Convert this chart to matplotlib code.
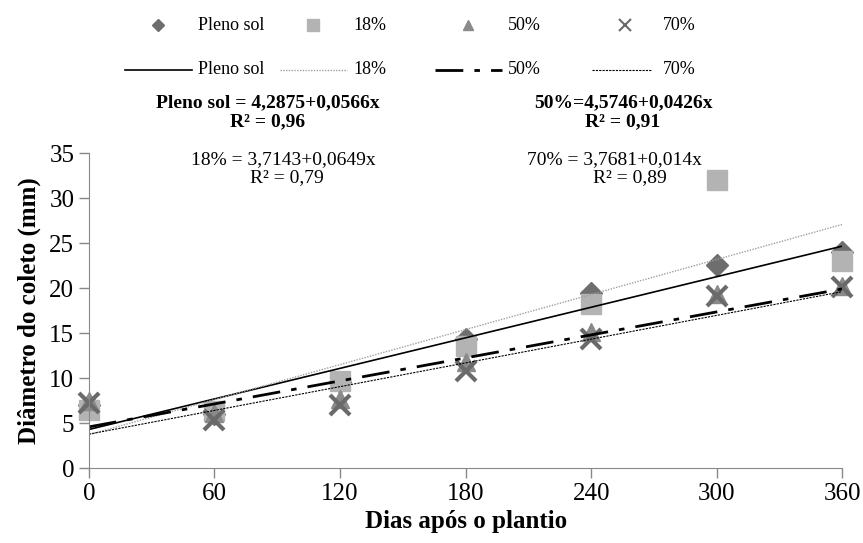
import matplotlib.pyplot as plt
from matplotlib.lines import Line2D
import numpy as np

# dados
dias = [0, 60, 120, 180, 240, 300, 360]
pleno_sol = [7.0, 6.0, 9.6, 14.3, 19.5, 22.6, 24.0]
s18 = [6.4, 6.3, 9.7, 13.6, 18.2, 32.0, 23.0]
s50 = [7.5, 6.1, 7.7, 11.8, 15.1, 19.3, 20.2]
s70 = [7.2, 5.3, 7.0, 10.8, 14.3, 19.1, 20.1]

nomes = ['Pleno sol', '18%', '50%', '70%']
interceptos = [4.2875, 3.7143, 4.5746, 3.7681]
inclinacoes = [0.0566, 0.0649, 0.0426, 0.044]
eqs = ['Pleno sol = 4,2875+0,0566x', '18% = 3,7143+0,0649x',
       '50%=4,5746+0,0426x', '70% = 3,7681+0,014x']
r2 = ['R² = 0,96', 'R² = 0,79', 'R² = 0,91', 'R² = 0,89']

plt.rcParams['font.family'] = ['Liberation Serif', 'DejaVu Serif']

mk = [dict(marker='D', color='#6e6e6e', ms=11),
      dict(marker='s', color='#b3b3b3', ms=14),
      dict(marker='^', color='#8a8a8a', ms=13),
      dict(marker='x', color='#6a6a6a', ms=14, mew=3)]
ls = [dict(color='black', lw=1.2, ls='-'),
      dict(color='#a0a0a0', lw=1.0, ls=(0, (1, 1))),
      dict(color='black', lw=2.0, ls=(0, (10, 4, 2, 4))),
      dict(color='black', lw=0.8, ls=(0, (2, 1)))]

fig = plt.figure(figsize=(8.63, 5.43), dpi=100)
ax = fig.add_axes([0.103, 0.138, 0.873, 0.580])

series = [pleno_sol, s18, s50, s70]
for y, m in zip(series, mk):
    ax.plot(dias, y, ls='none', clip_on=False, **m)

xx = np.array([0, 360])
for a, b, l in zip(interceptos, inclinacoes, ls):
    ax.plot(xx, a + b * xx, **l)

ax.set_xlim(0, 360)
ax.set_ylim(0, 35)
ax.set_xticks(dias)
ax.set_yticks(range(0, 36, 5))
ax.tick_params(labelsize=18, length=7, color='#888888', width=1)
for s in ['top', 'right']:
    ax.spines[s].set_visible(False)
for s in ['left', 'bottom']:
    ax.spines[s].set_color('#888888')
ax.set_xlabel('Dias após o plantio', fontsize=18, fontweight='bold', labelpad=4)
ax.set_ylabel('Diâmetro do coleto (mm)', fontsize=18, fontweight='bold', labelpad=6)

# legenda
W, H = 863, 543
mx = [158, 313, 468, 625]
tx = [198, 353, 508, 663]
lx = [(125, 192), (280, 347), (435, 502), (592, 652)]
for i in range(4):
    m = dict(mk[i], ms=mk[i]['ms'] * 0.6)
    if i == 3:
        m['mew'] = 1.5
    fig.add_artist(Line2D([mx[i] / W], [1 - 25 / H], ls='none',
                          transform=fig.transFigure, **m))
    fig.add_artist(Line2D([lx[i][0] / W, lx[i][1] / W], [1 - 70 / H] * 2,
                          transform=fig.transFigure, **ls[i]))
    fig.text(tx[i] / W, 1 - 25 / H, nomes[i], fontsize=13, va='center')
    fig.text(tx[i] / W, 1 - 70 / H, nomes[i], fontsize=13, va='center')

# equacoes
pos = [(268, 103, 268, 122), (283, 160, 287, 178), (623, 103, 623, 122), (614, 160, 630, 178)]
for i in range(4):
    x1, y1, x2, y2 = pos[i]
    w = 'bold' if i in (0, 2) else 'normal'
    fig.text(x1 / W, 1 - y1 / H, eqs[i], fontsize=14, ha='center', va='center', fontweight=w)
    fig.text(x2 / W, 1 - y2 / H, r2[i], fontsize=14, ha='center', va='center', fontweight=w)

fig.savefig('out.png', dpi=100)
